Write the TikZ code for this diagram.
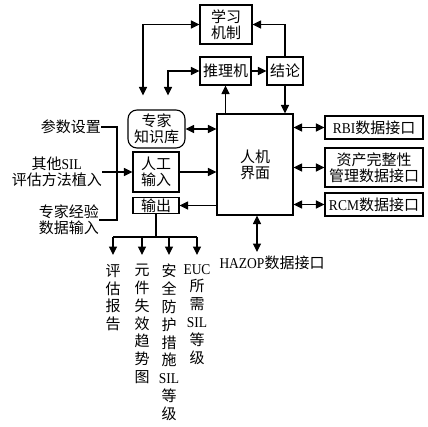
\documentclass[tikz,border=0pt]{standalone}
\usepackage{fontspec}
\setmainfont{Noto Sans CJK SC}
\newfontfamily\latf[FakeStretch=0.9]{Liberation Serif}
\newcommand\La[1]{{\latf #1}}
\usetikzlibrary{arrows.meta}
\begin{document}
\begin{tikzpicture}[x=1pt,y=-1pt,
  every node/.style={font=\fontsize{15}{16}\selectfont, inner sep=0pt, align=center},
  box/.style={draw, line width=1.1pt},
  ln/.style={line width=1.1pt},
  tip/.style={ln, -{Triangle[length=8.5pt,width=8pt]}},
  both/.style={ln, {Triangle[length=8.5pt,width=8pt]}-{Triangle[length=8.5pt,width=8pt]}},
  colm/.style={anchor=north, font=\fontsize{15}{17.8}\selectfont}]
\useasboundingbox (0,0) rectangle (428,426);
% boxes
\node[box, minimum width=52, minimum height=39] (learn) at (226,24.5) {学习\\机制};
\node[box, minimum width=51, minimum height=28] (infer) at (225.5,71) {推理机};
\node[box, minimum width=36, minimum height=28] (concl) at (285,71) {结论};
\node[box, minimum width=76, minimum height=101] (hmi) at (255,164.5) {人机\\界面};
\node[box, rounded corners=9pt, minimum width=57, minimum height=38] (kb) at (156.5,129) {专家\\知识库};
\node[box, minimum width=46, minimum height=40] (manual) at (156,172) {人工\\输入};
\node[box, minimum width=46, minimum height=16] (outp) at (156,205.5) {输出};
\node[box, minimum width=98, minimum height=23] (rbi) at (374,127.5) {\La{RBI}数据接口};
\node[box, minimum width=98, minimum height=39] (asset) at (374,167.5) {资产完整性\\管理数据接口};
\node[box, minimum width=98, minimum height=23] (rcm) at (374,204.5) {\La{RCM}数据接口};
\node (hazop) at (272,263) {\La{HAZOP}数据接口};
% left texts
\node[anchor=east] (p1) at (101,127) {参数设置};
\node[anchor=east] (p2) at (102,172) {其他\La{SIL}\\评估方法植入};
\node[anchor=east] (p3) at (99,220) {专家经验\\数据输入};
% output columns
\node[colm] (o1) at (113,264) {评\\估\\报\\告};
\node[colm] (o2) at (142,264) {元\\件\\失\\效\\趋\\势\\图};
\node[colm] (o3) at (169,264) {安\\全\\防\\护\\措\\施\\\La{SIL}\\等\\级};
\node[colm] (o4) at (197,264) {\La{EUC}\\所\\需\\\La{SIL}\\等\\级};
% coordinates
\coordinate (a1) at (143,24.5);
\coordinate (a2) at (168,71);
\coordinate (br) at (117,172);
\coordinate (hz) at (257,252);
\coordinate (t) at (156,237);
\coordinate (c1) at (113,237);
\coordinate (c2) at (142,237);
\coordinate (c3) at (169,237);
\coordinate (c4) at (197,237);
% connectors top
\draw[both, shorten >=14pt] (learn.west) -| (kb.north -| a1);
\draw[both, shorten >=14pt] (infer.west) -| (kb.north -| a2);
\draw[tip] (infer) -- (concl);
\draw[tip] (concl.north) |- (learn.east);
\draw[tip] (concl.south) -- (concl.south |- hmi.north);
\draw[tip] (hmi.north -| infer.south) -- (infer.south);
% hmi connections
\draw[both] (kb.east) -- (kb.east -| hmi.west);
\draw[tip] (manual.east) -- (manual.east -| hmi.west);
\draw[tip] (outp.east -| hmi.west) -- (outp.east);
\draw[both] (rbi.west -| hmi.east) -- (rbi.west);
\draw[both] (asset.west -| hmi.east) -- (asset.west);
\draw[both] (rcm.west -| hmi.east) -- (rcm.west);
\draw[both] (hmi.south -| hz) -- (hz);
% left bracket
\draw[ln] (p1.east) -| (br) |- (p3.east);
\draw[tip] (p2.east) -- (manual.west);
% output tree
\draw[ln] (outp.south) -- (t);
\draw[ln] (c1) -- (c4);
\draw[tip, shorten >=9pt] (c1) -- (o1.north);
\draw[tip, shorten >=9pt] (c2) -- (o2.north);
\draw[tip, shorten >=9pt] (c3) -- (o3.north);
\draw[tip, shorten >=9pt] (c4) -- (o4.north);
\end{tikzpicture}
\end{document}
